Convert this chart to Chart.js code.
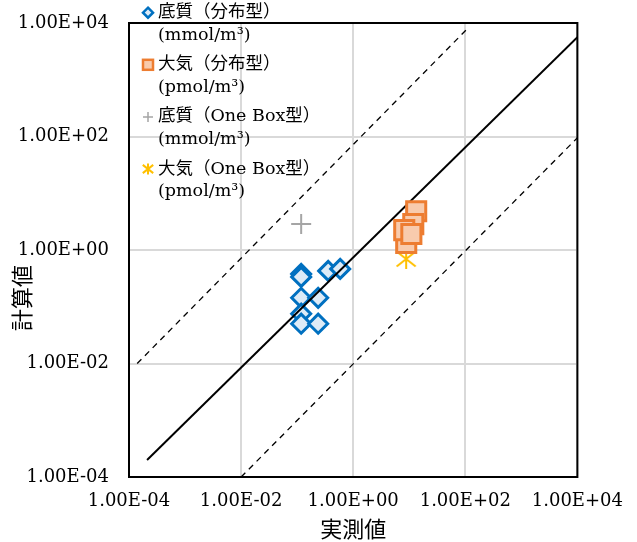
<!DOCTYPE html>
<html>
<head>
<meta charset="utf-8">
<script src="https://cdn.jsdelivr.net/npm/chart.js@4.4.0/dist/chart.umd.min.js"></script>
<style>
  html, body { margin: 0; padding: 0; background: #fff; }
  #wrap { width: 637px; height: 542px; }
</style>
</head>
<body>
<div id="wrap"><canvas id="chart1"></canvas></div>
<script>
// tick positions (log scale, every 2 decades)
const tickValues = [1e-4, 1e-2, 1e0, 1e2, 1e4];

// 底質（分布型） [実測値, 計算値]
const sedimentDist = [[0.118, 0.379], [0.118, 0.336], [0.358, 0.428], [0.586, 0.464], [0.118, 0.144],
  [0.237, 0.144], [0.118, 0.0753], [0.118, 0.0503], [0.237, 0.0503]];
// 大気（分布型）
const airDist = [[8.83, 1.33], [13.3, 4.83], [11.8, 2.86], [8.14, 2.24], [10.9, 1.91]];
// 底質（One Box型）
const sedimentBox = [[0.118, 2.86]];
// 大気（One Box型）
const airBox = [[8.8, 0.695]];

// reference lines
const fitLine = [[2.1e-4, 2.0e-4], [1e4, 5.6e3]];
const upperLine = [[1.4e-4, 1.0e-2], [110, 8e3]];
const lowerLine = [[1e-2, 1e-4], [1e4, 95]];

const legendLabels = [
  ['底質（分布型）', '(mmol/m³)'],
  ['大気（分布型）', '(pmol/m³)'],
  ['底質（One Box型）', '(mmol/m³)'],
  ['大気（One Box型）', '(pmol/m³)']
];
const xTitle = '実測値';
const yTitle = '計算値';

const serif = "'DejaVu Serif', 'Noto Sans CJK JP', serif";
const toXY = arr => arr.map(p => ({ x: p[0], y: p[1] }));

function fmtE(v) {
  const e = Math.round(Math.log10(v));
  return '1.00E' + (e < 0 ? '-' : '+') + String(Math.abs(e)).padStart(2, '0');
}

// asterisk marker (Excel style star)
function makeStar(scale, lw) {
  const s = Math.ceil(24 * scale);
  const c = document.createElement('canvas');
  c.width = s; c.height = s;
  const g = c.getContext('2d');
  g.strokeStyle = '#FFC000';
  g.lineWidth = lw;
  g.translate(s / 2, s / 2);
  g.beginPath();
  g.moveTo(0, -10 * scale); g.lineTo(0, 10 * scale);
  g.moveTo(-9.5 * scale, -7.5 * scale); g.lineTo(9.5 * scale, 7.5 * scale);
  g.moveTo(9.5 * scale, -7.5 * scale); g.lineTo(-9.5 * scale, 7.5 * scale);
  g.stroke();
  return c;
}
const starBig = makeStar(1, 2);
const starSmall = makeStar(0.55, 2);

// plot frame (all four sides)
const framePlugin = {
  id: 'frame',
  beforeDatasetsDraw(chart) {
    const a = chart.chartArea, ctx = chart.ctx;
    ctx.save();
    ctx.strokeStyle = '#000';
    ctx.lineWidth = 2;
    ctx.strokeRect(a.left, a.top, a.right - a.left, a.bottom - a.top);
    ctx.restore();
  }
};

// legend + y title
const legendPlugin = {
  id: 'legendBox',
  afterDraw(chart) {
    const ctx = chart.ctx;
    ctx.save();
    ctx.fillStyle = '#000';
    ctx.textBaseline = 'middle';
    ctx.textAlign = 'left';
    ctx.font = '17.5px ' + serif;
    legendLabels.forEach((lines, i) => {
      const y = 12.7 + i * 52.1;
      ctx.fillText(lines[0], 158, y);
      ctx.fillText(lines[1], 158, y + 22.5);
      const mx = 148;
      if (i === 0) {
        ctx.beginPath();
        ctx.moveTo(mx, y - 5); ctx.lineTo(mx + 5, y); ctx.lineTo(mx, y + 5); ctx.lineTo(mx - 5, y); ctx.closePath();
        ctx.fillStyle = '#DDEBF7'; ctx.fill();
        ctx.strokeStyle = '#0070C0'; ctx.lineWidth = 2.5; ctx.stroke();
      } else if (i === 1) {
        ctx.fillStyle = '#F8CBAD'; ctx.fillRect(mx - 5, y - 5, 10, 10);
        ctx.strokeStyle = '#ED7D31'; ctx.lineWidth = 2.5; ctx.strokeRect(mx - 5, y - 5, 10, 10);
      } else if (i === 2) {
        ctx.beginPath();
        ctx.moveTo(mx - 5, y); ctx.lineTo(mx + 5, y); ctx.moveTo(mx, y - 5); ctx.lineTo(mx, y + 5);
        ctx.strokeStyle = '#A5A5A5'; ctx.lineWidth = 1.5; ctx.stroke();
      } else {
        ctx.drawImage(starSmall, mx - starSmall.width / 2, y - starSmall.height / 2);
      }
      ctx.fillStyle = '#000';
    });
    // y axis title (placed below the centre, as in the original)
    ctx.translate(22, 298);
    ctx.rotate(-Math.PI / 2);
    ctx.textAlign = 'center';
    ctx.font = "22px 'Noto Sans CJK JP'";
    ctx.fillText(yTitle, 0, 0);
    ctx.restore();
  }
};

const ctx1 = document.getElementById('chart1').getContext('2d');

const cfg1 = {
  type: 'scatter',
  data: {
    datasets: [
      {
        label: legendLabels[1].join(' '),
        data: toXY(airDist),
        pointStyle: 'rect',
        pointRadius: 13.5,
        pointHoverRadius: 13.5,
        borderWidth: 3,
        borderColor: '#ED7D31',
        backgroundColor: '#F8CBAD',
        order: 0
      },
      {
        label: legendLabels[3].join(' '),
        data: toXY(airBox),
        pointStyle: starBig,
        order: 0
      },
      {
        label: 'fit',
        data: toXY(fitLine),
        showLine: true,
        pointRadius: 0,
        borderColor: '#000',
        borderWidth: 2,
        order: 1
      },
      {
        label: legendLabels[0].join(' '),
        data: toXY(sedimentDist),
        pointStyle: 'rectRot',
        pointRadius: 9.5,
        pointHoverRadius: 9.5,
        borderWidth: 3,
        borderColor: '#0070C0',
        backgroundColor: '#DDEBF7',
        order: 2
      },
      {
        label: legendLabels[2].join(' '),
        data: toXY(sedimentBox),
        pointStyle: 'cross',
        pointRadius: 10,
        pointHoverRadius: 10,
        borderWidth: 2,
        borderColor: '#A5A5A5',
        order: 2
      },
      {
        label: 'x100',
        data: toXY(upperLine),
        showLine: true,
        pointRadius: 0,
        borderColor: '#000',
        borderWidth: 1.3,
        borderDash: [6, 5],
        order: 3
      },
      {
        label: 'x0.01',
        data: toXY(lowerLine),
        showLine: true,
        pointRadius: 0,
        borderColor: '#000',
        borderWidth: 1.3,
        borderDash: [6, 5],
        order: 3
      }
    ]
  },
  options: {
    responsive: true,
    maintainAspectRatio: false,
    animation: false,
    events: [],
    layout: { padding: { left: 0, right: 59, top: 23, bottom: 0 } },
    plugins: {
      legend: { display: false },
      tooltip: { enabled: false }
    },
    scales: {
      x: {
        type: 'logarithmic',
        min: 1e-4,
        max: 1e4,
        afterBuildTicks: s => { s.ticks = tickValues.map(v => ({ value: v })); },
        afterFit: s => { s.height = 65; },
        ticks: {
          callback: v => fmtE(v),
          color: '#000',
          font: { family: serif, size: 18 },
          padding: 14,
          maxRotation: 0,
          autoSkip: false
        },
        grid: { color: '#D9D9D9', lineWidth: 2, drawTicks: false },
        border: { display: false },
        title: {
          display: true,
          text: xTitle,
          color: '#000',
          font: { family: "'Noto Sans CJK JP'", size: 22 },
          padding: 0
        }
      },
      y: {
        type: 'logarithmic',
        min: 1e-4,
        max: 1e4,
        afterBuildTicks: s => { s.ticks = tickValues.map(v => ({ value: v })); },
        afterFit: s => { s.width = 129; s.paddingTop = 5; s.paddingBottom = 5; },
        ticks: {
          callback: v => fmtE(v),
          color: '#000',
          font: { family: serif, size: 18 },
          padding: 20,
          autoSkip: false
        },
        grid: { color: '#D9D9D9', lineWidth: 2, drawTicks: false },
        border: { display: false }
      }
    }
  },
  plugins: [framePlugin, legendPlugin]
};

const chart1 = new Chart(ctx1, cfg1);
</script>
</body>
</html>
